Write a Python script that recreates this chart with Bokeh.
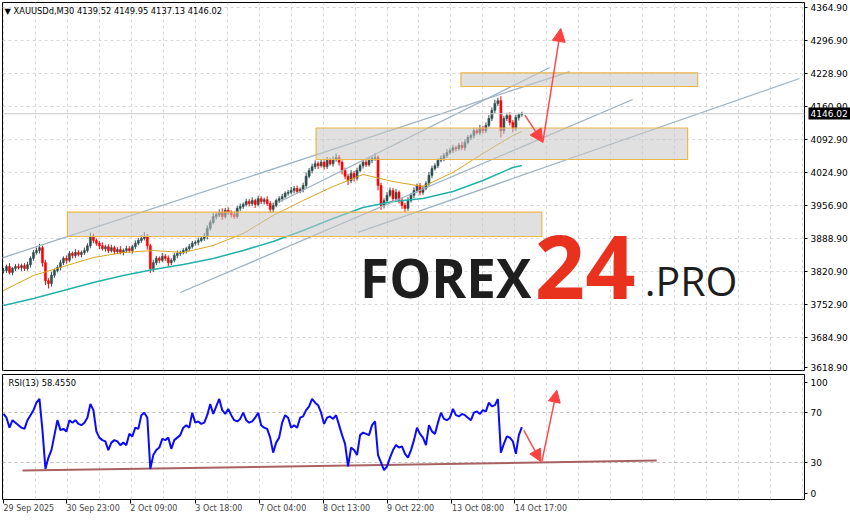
from bokeh.plotting import figure
from bokeh.layouts import column
from bokeh.models import (ColumnDataSource, FixedTicker, Range1d, Label, Span, Arrow,
                          NormalHead, Grid, LinearAxis)
from bokeh.embed import file_html
from bokeh.resources import INLINE

# ---------------- data ----------------
title_text = "\u25BC XAUUSDd,M30  4139.52 4149.95 4137.13 4146.02"
rsi_title = "RSI(13) 58.4550"
last_price = 4146.02
bar_step = 3  # one candle drawn for every 3 M30 bars

closes = [3823, 3831, 3819, 3827, 3831, 3829, 3833, 3827, 3835, 3848,
          3860, 3864, 3870, 3839, 3802, 3796, 3813, 3823, 3829, 3839,
          3848, 3844, 3858, 3854, 3860, 3856, 3860, 3864, 3874, 3893,
          3885, 3879, 3874, 3868, 3872, 3864, 3870, 3862, 3866, 3860,
          3864, 3868, 3864, 3872, 3879, 3885, 3889, 3893, 3874, 3827,
          3839, 3848, 3844, 3852, 3848, 3839, 3844, 3854, 3858, 3860,
          3864, 3868, 3872, 3879, 3881, 3885, 3889, 3893, 3910, 3922,
          3934, 3938, 3943, 3934, 3947, 3943, 3938, 3934, 3951, 3955,
          3959, 3965, 3961, 3967, 3959, 3971, 3965, 3969, 3961, 3949,
          3957, 3967, 3971, 3975, 3982, 3984, 3988, 3992, 3986, 3990,
          3998, 4017, 4029, 4037, 4043, 4039, 4046, 4037, 4050, 4043,
          4052, 4056, 4046, 4029, 4017, 4008, 4023, 4013, 4029, 4039,
          4046, 4041, 4050, 4054, 4056, 3998, 3957, 3967, 3978, 3988,
          3971, 3984, 3967, 3957, 3951, 3967, 3978, 3988, 3998, 3984,
          3992, 4002, 4019, 4033, 4039, 4050, 4054, 4060, 4066, 4070,
          4076, 4074, 4081, 4076, 4087, 4097, 4101, 4111, 4107, 4116,
          4111, 4122, 4136, 4153, 4167, 4173, 4111, 4136, 4142, 4128,
          4116, 4138, 4144, 4146.02]

# estimated wick lengths (price units) above / below each candle body
upper_wick = [5, 4, 7, 3, 5, 6, 4, 5, 6, 4,
              5, 6, 8, 4, 6, 5, 7, 4, 5, 6,
              4, 6, 5, 4, 7, 5, 4, 6, 5, 8,
              6, 4, 5, 7, 4, 5, 6, 4, 5, 7,
              4, 6, 5, 4, 6, 5, 7, 9, 5, 4,
              6, 5, 4, 7, 5, 6, 4, 5, 6, 4,
              5, 4, 6, 5, 4, 6, 5, 7, 6, 5,
              7, 5, 6, 8, 5, 6, 4, 7, 5, 6,
              4, 6, 5, 7, 4, 6, 5, 4, 7, 5,
              6, 4, 5, 6, 4, 5, 7, 5, 6, 4,
              6, 8, 5, 6, 7, 5, 6, 4, 7, 5,
              6, 8, 5, 4, 6, 5, 7, 5, 6, 4,
              5, 6, 7, 5, 9, 4, 6, 5, 7, 6,
              5, 7, 4, 6, 5, 7, 5, 6, 4, 5,
              6, 5, 7, 6, 5, 4, 6, 5, 7, 5,
              6, 4, 5, 7, 6, 5, 4, 6, 5, 7,
              5, 6, 7, 6, 8, 6, 9, 5, 6, 7,
              5, 6, 4, 4]
lower_wick = [6, 5, 4, 6, 5, 4, 7, 5, 4, 6,
              5, 4, 6, 8, 9, 10, 6, 5, 4, 6,
              5, 7, 4, 6, 5, 4, 6, 5, 4, 5,
              6, 5, 7, 4, 6, 5, 4, 6, 5, 4,
              6, 5, 4, 6, 5, 4, 5, 4, 8, 9,
              7, 5, 6, 4, 5, 7, 5, 4, 6, 5,
              4, 6, 5, 4, 5, 6, 4, 5, 6, 5,
              4, 6, 5, 7, 4, 5, 6, 5, 4, 6,
              5, 4, 6, 5, 7, 4, 5, 6, 5, 8,
              6, 4, 5, 6, 4, 5, 4, 6, 5, 4,
              6, 5, 4, 6, 5, 7, 4, 6, 5, 4,
              6, 5, 7, 8, 6, 9, 5, 7, 5, 4,
              6, 5, 4, 6, 5, 10, 9, 6, 5, 4,
              7, 5, 6, 7, 8, 5, 4, 6, 5, 6,
              5, 4, 5, 6, 4, 5, 4, 6, 5, 4,
              5, 6, 4, 5, 6, 4, 5, 6, 4, 5,
              6, 5, 4, 5, 6, 5, 14, 7, 5, 6,
              8, 5, 6, 4]

rsi_values = [69, 66, 58, 64, 62, 60, 58, 57, 64, 68,
              72, 78, 81, 56, 25, 34, 40, 52, 64, 56,
              57, 55, 64, 62, 64, 61, 60, 62, 66, 77,
              72, 55, 50, 48, 47, 40, 46, 48, 47, 44,
              46, 44, 53, 51, 58, 57, 68, 70, 66, 25,
              36, 40, 42, 49, 48, 50, 41, 48, 50, 52,
              58, 60, 58, 70, 62, 63, 61, 62, 68, 77,
              69, 75, 81, 72, 69, 73, 68, 64, 63, 65,
              70, 64, 62, 63, 66, 70, 60, 58, 57, 50,
              38, 46, 50, 62, 68, 66, 58, 60, 58, 66,
              67, 72, 75, 81, 78, 76, 70, 61, 66, 67,
              65, 68, 60, 52, 45, 27, 42, 40, 36, 52,
              54, 53, 52, 60, 63, 36, 30, 24, 27, 34,
              40, 44, 42, 43, 37, 34, 40, 48, 58, 53,
              50, 44, 60, 55, 53, 62, 70, 65, 64, 66,
              73, 68, 67, 69, 68, 66, 64, 70, 71, 69,
              72, 71, 78, 75, 76, 81, 38, 45, 51, 50,
              47, 37, 52, 58.455]

ma_bars = [0, 30, 60, 90, 120, 150, 180, 210, 240, 270, 300, 330, 360, 390, 420, 450, 480, 510, 519]
ma_fast = [3781.7, 3812.6, 3831.2, 3849.7, 3860.0, 3864.2, 3860.0, 3874.5, 3899.2, 3936.3,
           3967.2, 3996.0, 4020.8, 4006.3, 3996.0, 4024.9, 4064.0, 4101.1, 4109.4]
ma_slow = [3750.8, 3765.3, 3781.7, 3798.2, 3812.6, 3825.0, 3835.3, 3847.7, 3864.2, 3882.7,
           3905.4, 3930.1, 3952.8, 3965.1, 3971.3, 3985.7, 4008.4, 4035.2, 4039.3]

price_ticks = [4364.9, 4296.9, 4228.9, 4160.9, 4092.9, 4024.9, 3956.9, 3888.9, 3820.9, 3752.9, 3684.9, 3622.9]
price_labels = ["4364.90", "4296.90", "4228.90", "4160.90", "4092.90", "4024.90", "3956.90",
                "3888.90", "3820.90", "3752.90", "3684.90", "3618.90"]

date_bars = [0, 63, 127, 192, 256, 320, 384, 449, 512]
date_labels = ["29 Sep 2025", "30 Sep 23:00", "2 Oct 09:00", "3 Oct 18:00", "7 Oct 04:00",
               "8 Oct 13:00", "9 Oct 22:00", "13 Oct 08:00", "14 Oct 17:00"]

rsi_tick_pos = [94, 70, 30, 5]
rsi_tick_labels = ["100", "70", "30", "0"]
rsi_levels = [70, 30]

# zones (support / resistance rectangles)
zone_left = [64, 313, 458]
zone_right = [539, 685, 695]
zone_top = [3943.1, 4116.6, 4230.3]
zone_bottom = [3893.0, 4051.7, 4202.1]

# channel lines
tl_x0 = [-3, 277, 177, 355]
tl_y0 = [3847.7, 3965.1, 3777.6, 3901.3]
tl_x1 = [567, 547, 630, 797]
tl_y1 = [4233.0, 4241.3, 4175.3, 4218.6]

# forecast arrows (price panel)
arr_x0 = [522, 540]
arr_y0 = [4143.0, 4087.0]
arr_x1 = [540, 558]
arr_y1 = [4087.0, 4321.6]

# forecast arrows (RSI panel)
rarr_x0 = [521, 539]
rarr_y0 = [55.8, 30.8]
rarr_x1 = [538, 554]
rarr_y1 = [30.8, 88.0]

rsi_tl_x = [19, 654]
rsi_tl_y = [23.6, 31.6]

# ---------------- derived ----------------
bars = [i * bar_step for i in range(len(closes))]
opens = [closes[0]] + closes[:-1]
top = [max(o, c) for o, c in zip(opens, closes)]
bot = [min(o, c) for o, c in zip(opens, closes)]
highs = [t + w for t, w in zip(top, upper_wick)]
lows = [b - w for b, w in zip(bot, lower_wick)]
col = ["#2F4F4F" if c >= o else "#FF0000" for o, c in zip(opens, closes)]
candles = ColumnDataSource(dict(x=bars, top=top, bottom=bot, high=highs, low=lows, color=col))

X0, X1 = -1, 802
W = 850
RIGHT = 45
FONT = "DejaVu Sans"

grid_bars = list(range(0, 801, 32))


def style_side_axis(a, size="9px"):
    a.major_label_text_font = FONT
    a.major_label_text_font_size = size
    a.major_label_text_color = "black"
    a.axis_line_color = None
    a.major_tick_out = 3
    a.major_tick_in = 0
    a.minor_tick_out = 0
    a.minor_tick_in = 0
    a.major_label_standoff = 3


# ---------------- main panel ----------------
p = figure(width=W, height=372, x_range=Range1d(X0, X1), y_range=Range1d(3616.9, 4375.2),
           y_axis_location="right", x_axis_location=None, toolbar_location=None,
           output_backend="svg", min_border_left=2, min_border_right=RIGHT,
           min_border_top=2, min_border_bottom=2)
p.outline_line_color = "black"
p.outline_line_width = 1
p.background_fill_color = "white"
p.border_fill_color = "white"
for g in p.grid:
    g.visible = False
p.add_layout(Grid(dimension=0, ticker=FixedTicker(ticks=grid_bars), grid_line_color="#D8D8D8",
                  grid_line_dash="3 3"))
p.add_layout(Grid(dimension=1, ticker=FixedTicker(ticks=price_ticks[:-1]), grid_line_color="#D8D8D8",
                  grid_line_dash="3 3"))

ax = p.yaxis[0]
ax.ticker = FixedTicker(ticks=price_ticks)
ax.major_label_overrides = {t: l for t, l in zip(price_ticks, price_labels)}
style_side_axis(ax)

# current price marker on the price scale
box_axis = LinearAxis(ticker=FixedTicker(ticks=[last_price]),
                      major_label_overrides={last_price: "4146.02"},
                      axis_line_color=None, major_tick_in=42, major_tick_out=0,
                      major_tick_line_color="black", major_tick_line_width=12,
                      major_tick_line_cap="butt", minor_tick_in=0, minor_tick_out=0,
                      major_label_standoff=-40, major_label_text_color="white",
                      major_label_text_font=FONT, major_label_text_font_size="9px")
p.add_layout(box_axis, "right")

p.add_layout(Span(location=last_price, dimension="width", line_color="#C8C8C8", line_width=1))

p.segment(x0="x", y0="low", x1="x", y1="high", line_color="color", line_width=1, source=candles)
p.vbar(x="x", top="top", bottom="bottom", width=2, fill_color="color", line_color="color",
       line_width=0.6, source=candles)
p.line(ma_bars, ma_fast, line_color="#DAA520", line_width=1.0)
p.line(ma_bars, ma_slow, line_color="#20B2AA", line_width=1.5)
p.segment(x0=tl_x0, y0=tl_y0, x1=tl_x1, y1=tl_y1, line_color="#9DB3C3", line_width=1.3)
p.quad(left=zone_left, right=zone_right, top=zone_top, bottom=zone_bottom,
       fill_color="#C6C6C6", fill_alpha=0.55, line_color="#ECB64A", line_width=1.2)

asrc = ColumnDataSource(dict(x0=arr_x0, y0=arr_y0, x1=arr_x1, y1=arr_y1))
p.add_layout(Arrow(end=NormalHead(size=13, fill_color="#FF4040", line_color="#FF4040"),
                   x_start="x0", y_start="y0", x_end="x1", y_end="y1", source=asrc,
                   line_color="#FF4A4A", line_width=1.5))

p.add_layout(Label(x=1, y=4358.7, text=title_text, text_font=FONT, text_font_size="8.3px",
                   text_color="black", text_baseline="middle"))
p.add_layout(Label(x=357, y=3808.5, text="FOREX", text_font="Open Sans",
                   text_font_style="bold", text_font_size="53px", text_color="#1E1E1E",
                   text_baseline="middle"))
p.add_layout(Label(x=532, y=3829.1, text="24", text_font="Open Sans",
                   text_font_style="bold", text_font_size="88px", text_color="#E8321E",
                   text_baseline="middle"))
p.add_layout(Label(x=642, y=3804.4, text=".PRO", text_font="Open Sans",
                   text_font_size="41px", text_color="#1E1E1E", text_baseline="middle"))

# ---------------- RSI panel ----------------
r = figure(width=W, height=148, x_range=p.x_range, y_range=Range1d(0.4, 100.6),
           y_axis_location="right", toolbar_location=None, output_backend="svg",
           min_border_left=2, min_border_right=RIGHT, min_border_top=2, min_border_bottom=21)
r.outline_line_color = "black"
r.outline_line_width = 1
r.background_fill_color = "white"
r.border_fill_color = "white"
for g in r.grid:
    g.visible = False
r.add_layout(Grid(dimension=0, ticker=FixedTicker(ticks=grid_bars), grid_line_color="#D8D8D8",
                  grid_line_dash="3 3"))
r.add_layout(Grid(dimension=1, ticker=FixedTicker(ticks=rsi_levels), grid_line_color="#C0C0C0",
                  grid_line_dash="3 3"))

ry = r.yaxis[0]
ry.ticker = FixedTicker(ticks=rsi_tick_pos)
ry.major_label_overrides = {t: l for t, l in zip(rsi_tick_pos, rsi_tick_labels)}
style_side_axis(ry)

rx = r.xaxis[0]
rx.ticker = FixedTicker(ticks=date_bars)
rx.major_label_overrides = {t: l for t, l in zip(date_bars, date_labels)}
rx.major_label_text_font = FONT
rx.major_label_text_font_size = "8px"
rx.major_label_orientation = -1e-4   # labels start at their tick, as in MT4
rx.axis_line_color = None
rx.major_tick_out = 4
rx.major_tick_in = 0
rx.minor_tick_out = 0
rx.minor_tick_in = 0
rx.major_label_standoff = 5

r.line(rsi_tl_x, rsi_tl_y, line_color="#A86262", line_width=2)
r.line(bars, rsi_values, line_color="#0A0AFF", line_width=2)
rsrc = ColumnDataSource(dict(x0=rarr_x0, y0=rarr_y0, x1=rarr_x1, y1=rarr_y1))
r.add_layout(Arrow(end=NormalHead(size=12, fill_color="#FF4040", line_color="#FF4040"),
                   x_start="x0", y_start="y0", x_end="x1", y_end="y1", source=rsrc,
                   line_color="#FF4A4A", line_width=1.5))
r.add_layout(Label(x=5, y=93.5, text=rsi_title, text_font=FONT, text_font_size="8.3px",
                   text_color="black", text_baseline="middle"))

layout = column(p, r, spacing=0)
open("out.html", "w").write(file_html(layout, INLINE))
